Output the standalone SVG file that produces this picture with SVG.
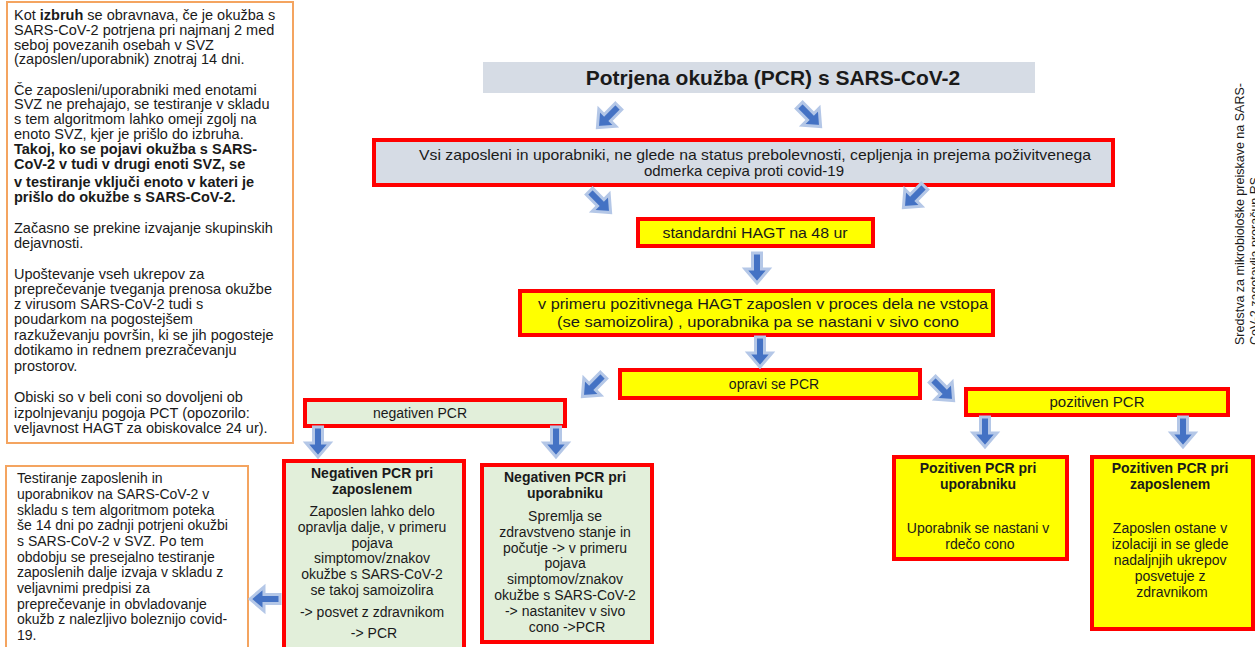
<svg xmlns="http://www.w3.org/2000/svg" xmlns:xlink="http://www.w3.org/1999/xlink" width="1255" height="647" viewBox="0 0 1255 647">
<style>
text{font-family:"Liberation Sans",Arial,sans-serif;fill:#1a1a1a}
.note{fill:#fff;stroke:#F4A460;stroke-width:2}
.red{stroke:#FF0000;stroke-width:4}
.gray{fill:#D6DCE5}
.yel{fill:#FFFF00}
.grn{fill:#E2EFDA}
.t{font-size:14px}
.t2{font-size:14.5px}
.big{font-size:15px}
.c{text-anchor:middle}
.b{font-weight:bold}
.arr{fill:#4472C4;stroke:#B4C7E7;stroke-width:3;stroke-linejoin:miter}
</style>
<defs>
<path id="arr" d="M-4.5,-15 H4.5 V1 H12 L0,15 L-12,1 H-4.5 Z"/>
</defs>
<rect width="1255" height="647" fill="#fff"/>

<g id="note-top">
<rect class="note" x="7" y="2" width="286" height="441"/>
<text class="t2">
<tspan x="14" y="20">Kot <tspan class="b">izbruh</tspan> se obravnava, če je okužba s</tspan>
<tspan x="14" y="35">SARS-CoV-2  potrjena pri najmanj 2 med</tspan>
<tspan x="14" y="50">seboj povezanih osebah v SVZ</tspan>
<tspan x="14" y="64">(zaposlen/uporabnik)  znotraj 14 dni.</tspan>
<tspan x="14" y="95">Če zaposleni/uporabniki  med enotami</tspan>
<tspan x="14" y="109">SVZ ne prehajajo, se testiranje v skladu</tspan>
<tspan x="14" y="124">s tem  algoritmom lahko omeji zgolj na</tspan>
<tspan x="14" y="139">enoto SVZ, kjer je prišlo do izbruha.</tspan>
<tspan x="14" y="154" class="b">Takoj, ko se pojavi okužba s SARS-</tspan>
<tspan x="14" y="169" class="b">CoV-2 v tudi v drugi enoti SVZ, se</tspan>
<tspan x="14" y="187" class="b">v  testiranje vključi enoto v kateri je</tspan>
<tspan x="14" y="202" class="b">prišlo do okužbe s SARS-CoV-2.</tspan>
<tspan x="14" y="233">Začasno se prekine izvajanje skupinskih</tspan>
<tspan x="14" y="248">dejavnosti.</tspan>
<tspan x="14" y="279">Upoštevanje vseh ukrepov za</tspan>
<tspan x="14" y="294">preprečevanje tveganja prenosa okužbe</tspan>
<tspan x="14" y="309">z virusom SARS-CoV-2  tudi s</tspan>
<tspan x="14" y="324">poudarkom na pogostejšem</tspan>
<tspan x="14" y="340">razkuževanju  površin, ki se jih pogosteje</tspan>
<tspan x="14" y="355">dotikamo in rednem prezračevanju</tspan>
<tspan x="14" y="371">prostorov.</tspan>
<tspan x="14" y="402">Obiski so v beli coni so dovoljeni ob</tspan>
<tspan x="14" y="418">izpolnjevanju  pogoja PCT (opozorilo:</tspan>
<tspan x="14" y="433">veljavnost HAGT za obiskovalce 24 ur).</tspan>
</text>
</g>

<g id="note-bottom">
<rect class="note" x="6" y="466" width="242" height="190"/>
<text class="t">
<tspan x="17" y="483">Testiranje zaposlenih  in</tspan>
<tspan x="17" y="499">uporabnikov na SARS-CoV-2  v</tspan>
<tspan x="17" y="515">skladu s tem algoritmom poteka</tspan>
<tspan x="17" y="530">še 14 dni po zadnji potrjeni okužbi</tspan>
<tspan x="17" y="546">s SARS-CoV-2  v SVZ. Po tem</tspan>
<tspan x="17" y="562">obdobju se presejalno testiranje</tspan>
<tspan x="17" y="577">zaposlenih  dalje izvaja v skladu z</tspan>
<tspan x="17" y="593">veljavnimi  predpisi za</tspan>
<tspan x="17" y="609">preprečevanje  in obvladovanje</tspan>
<tspan x="17" y="624">okužb z nalezljivo boleznijo covid-</tspan>
<tspan x="17" y="640">19.</tspan>
</text>
</g>

<g id="title">
<rect class="gray" x="483" y="62" width="552" height="31"/>
<text class="c b" x="773" y="85" font-size="21">Potrjena okužba (PCR) s SARS-CoV-2</text>
</g>

<g id="all">
<rect class="gray red" x="374" y="140" width="739" height="45"/>
<text class="big c" x="755" y="160" textLength="672" lengthAdjust="spacingAndGlyphs">Vsi zaposleni  in uporabniki, ne glede na status prebolevnosti, cepljenja in prejema poživitvenega</text>
<text class="big c" x="744" y="176">odmerka cepiva proti covid-19</text>
</g>

<g id="hagt">
<rect class="yel red" x="638" y="219" width="235" height="27"/>
<text class="big c" x="755" y="238" textLength="185" lengthAdjust="spacingAndGlyphs">standardni  HAGT na 48 ur</text>
</g>

<g id="pos-hagt">
<rect class="yel red" x="520" y="291" width="473" height="44"/>
<text class="big c" x="763" y="309" textLength="450" lengthAdjust="spacingAndGlyphs">v primeru pozitivnega  HAGT zaposlen v proces dela ne vstopa</text>
<text class="big c" x="758" y="327" textLength="402" lengthAdjust="spacingAndGlyphs">(se samoizolira) , uporabnika pa se nastani v sivo cono</text>
</g>

<g id="pcr">
<rect class="yel red" x="620" y="370" width="300" height="28"/>
<text class="t c" x="774" y="389">opravi se PCR</text>
</g>

<g id="neg">
<rect class="grn red" x="305" y="400" width="260" height="26"/>
<text class="t c" x="420" y="418">negativen  PCR</text>
</g>

<g id="pos">
<rect class="yel red" x="966" y="389" width="262" height="26"/>
<text class="big c" x="1097" y="407">pozitiven  PCR</text>
</g>

<g id="neg-zap">
<rect class="grn red" x="284" y="461" width="180" height="200"/>
<text class="t c">
<tspan class="b" x="374" y="478">Negativen PCR pri</tspan>
<tspan class="b" x="374" y="494">zaposlenem</tspan>
<tspan x="374" y="516">Zaposlen  lahko delo</tspan>
<tspan x="374" y="532">opravlja dalje, v primeru</tspan>
<tspan x="374" y="548">pojava</tspan>
<tspan x="374" y="563">simptomov/znakov</tspan>
<tspan x="374" y="579">okužbe s SARS-CoV-2</tspan>
<tspan x="374" y="595">se takoj samoizolira</tspan>
<tspan x="374" y="617">-&gt; posvet z zdravnikom</tspan>
<tspan x="374" y="638">-&gt; PCR</tspan>
</text>
</g>

<g id="neg-upo">
<rect class="grn red" x="482" y="465" width="170" height="177"/>
<text class="t c">
<tspan class="b" x="567" y="482">Negativen PCR pri</tspan>
<tspan class="b" x="567" y="498">uporabniku</tspan>
<tspan x="567" y="521">Spremlja se</tspan>
<tspan x="567" y="537">zdravstveno  stanje in</tspan>
<tspan x="567" y="553">počutje -&gt; v primeru</tspan>
<tspan x="567" y="568">pojava</tspan>
<tspan x="567" y="584">simptomov/znakov</tspan>
<tspan x="567" y="600">okužbe s SARS-CoV-2</tspan>
<tspan x="567" y="616">-&gt; nastanitev v sivo</tspan>
<tspan x="567" y="632">cono -&gt;PCR</tspan>
</text>
</g>

<g id="pos-upo">
<rect class="yel red" x="894" y="457" width="173" height="102"/>
<text class="t c">
<tspan class="b" x="980" y="473">Pozitiven PCR pri</tspan>
<tspan class="b" x="980" y="489">uporabniku</tspan>
<tspan x="980" y="533">Uporabnik  se nastani v</tspan>
<tspan x="980" y="549">rdečo cono</tspan>
</text>
</g>

<g id="pos-zap">
<rect class="yel red" x="1092" y="457" width="161" height="172"/>
<text class="t c">
<tspan class="b" x="1172" y="473">Pozitiven PCR pri</tspan>
<tspan class="b" x="1172" y="489">zaposlenem</tspan>
<tspan x="1172" y="533">Zaposlen  ostane v</tspan>
<tspan x="1172" y="549">izolaciji  in se glede</tspan>
<tspan x="1172" y="565">nadaljnjih  ukrepov</tspan>
<tspan x="1172" y="581">posvetuje z</tspan>
<tspan x="1172" y="597">zdravnikom</tspan>
</text>
</g>

<g id="side-note">
<text font-size="12.5" fill="#333" transform="translate(1244,345) rotate(-90)">Sredstva za mikrobiološke preiskave na SARS-</text>
<text font-size="12.5" fill="#333" transform="translate(1259,345) rotate(-90)">CoV-2 zagotavlja proračun RS</text>
</g>

<g id="connectors">
<use xlink:href="#arr" class="arr" transform="translate(608,117) rotate(45)"/>
<use xlink:href="#arr" class="arr" transform="translate(810,116) rotate(-45)"/>
<use xlink:href="#arr" class="arr" transform="translate(600,202) rotate(-45)"/>
<use xlink:href="#arr" class="arr" transform="translate(914,197) rotate(45)"/>
<use xlink:href="#arr" class="arr" transform="translate(757,268)"/>
<use xlink:href="#arr" class="arr" transform="translate(760,352)"/>
<use xlink:href="#arr" class="arr" transform="translate(593,386) rotate(45)"/>
<use xlink:href="#arr" class="arr" transform="translate(943,390) rotate(-45)"/>
<use xlink:href="#arr" class="arr" transform="translate(318,442)"/>
<use xlink:href="#arr" class="arr" transform="translate(556,442)"/>
<use xlink:href="#arr" class="arr" transform="translate(985,432)"/>
<use xlink:href="#arr" class="arr" transform="translate(1183,432)"/>
<use xlink:href="#arr" class="arr" transform="translate(265,599) rotate(90)"/>
</g>
</svg>
